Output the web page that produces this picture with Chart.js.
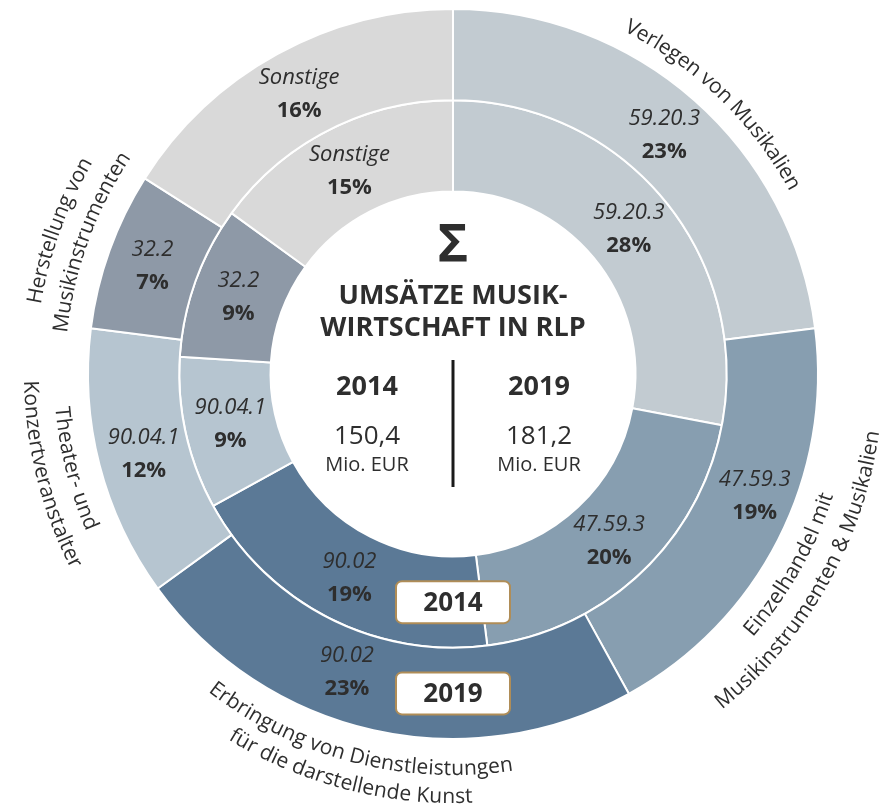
<!DOCTYPE html>
<html>
<head>
<meta charset="utf-8">
<script src="https://cdn.jsdelivr.net/npm/chart.js@4.4.1/dist/chart.umd.min.js"></script>
<style>
  html, body { margin: 0; padding: 0; background: #fff; }
  #wrap { width: 879px; height: 805px; }
</style>
</head>
<body>
<div id="wrap"><canvas id="musikChart" width="879" height="805"></canvas></div>
<script>
// Wirtschaftszweige (Außenbeschriftung, zeilenweise)
var categories = [
  ['Verlegen von Musikalien'],
  ['Einzelhandel mit', 'Musikinstrumenten & Musikalien'],
  ['Erbringung von Dienstleistungen', 'für die darstellende Kunst'],
  ['Theater- und', 'Konzertveranstalter'],
  ['Herstellung von', 'Musikinstrumenten'],
  []
];
var codes = ['59.20.3', '47.59.3', '90.02', '90.04.1', '32.2', 'Sonstige'];
var shares2014 = [28, 20, 19, 9, 9, 15];
var shares2019 = [23, 19, 23, 12, 7, 16];
var years = ['2014', '2019'];
var totals = ['150,4', '181,2'];
var unit = 'Mio. EUR';
var title = ['UMSÄTZE MUSIK-', 'WIRTSCHAFT IN RLP'];

var colors = ['#c2cbd1', '#879eb0', '#5b7996', '#b6c5d0', '#8e99a7', '#d9d9d9'];
var FONT = '"Open Sans", "Noto Sans", sans-serif';
var TEXT = '#2e2e2e';

// Text entlang eines Kreisbogens; deg = Winkel ab 12 Uhr im Uhrzeigersinn
function arcText(ctx, text, cx, cy, r, deg, inward) {
  var total = ctx.measureText(text).width;
  var a0 = deg * Math.PI / 180;
  var acc = 0;
  for (var i = 0; i < text.length; i++) {
    var ch = text[i];
    var w = ctx.measureText(ch).width;
    var off = (acc + w / 2 - total / 2) / r;
    var a = inward ? a0 - off : a0 + off;
    ctx.save();
    ctx.translate(cx + r * Math.sin(a), cy - r * Math.cos(a));
    ctx.rotate(inward ? a + Math.PI : a);
    ctx.fillText(ch, 0, 0);
    ctx.restore();
    acc += w;
  }
}

function roundRect(ctx, x, y, w, h, r) {
  ctx.beginPath();
  ctx.moveTo(x + r, y);
  ctx.arcTo(x + w, y, x + w, y + h, r);
  ctx.arcTo(x + w, y + h, x, y + h, r);
  ctx.arcTo(x, y + h, x, y, r);
  ctx.arcTo(x, y, x + w, y, r);
  ctx.closePath();
}

var labelPlugin = {
  id: 'ringLabels',
  afterDatasetsDraw: function(chart, args, opts) {
    var ctx = chart.ctx;
    var first = chart.getDatasetMeta(0).data[0];
    var cx = first.x, cy = first.y;
    ctx.save();
    ctx.textAlign = 'center';
    ctx.textBaseline = 'middle';
    ctx.fillStyle = TEXT;

    // Segmentbeschriftung: Kennziffer + Anteil
    chart.data.datasets.forEach(function(ds, di) {
      var meta = chart.getDatasetMeta(di);
      meta.data.forEach(function(arc, i) {
        var p = arc.getProps(['startAngle', 'endAngle', 'innerRadius', 'outerRadius'], true);
        var shift = (opts.shift[di] && opts.shift[di][i]) || [0, 0];
        var mid = (p.startAngle + p.endAngle) / 2 + shift[0] * Math.PI / 180;
        var r = (p.innerRadius + p.outerRadius) / 2 + shift[1];
        var x = cx + Math.cos(mid) * r;
        var y = cy + Math.sin(mid) * r;
        ctx.font = 'italic 22px ' + FONT;
        ctx.fillText(codes[i], x, y - 16);
        ctx.font = 'bold 22px ' + FONT;
        ctx.fillText(ds.data[i] + '%', x, y + 17);
      });
      // Jahres-Kästchen unten im Ring
      var m0 = meta.data[0];
      var rr = (m0.innerRadius + m0.outerRadius) / 2;
      var bx = cx - 57, by = cy + rr - 21;
      roundRect(ctx, bx, by, 114, 42, 6);
      ctx.fillStyle = '#ffffff';
      ctx.fill();
      ctx.lineWidth = 2;
      ctx.strokeStyle = '#b08d57';
      ctx.stroke();
      ctx.fillStyle = TEXT;
      ctx.font = 'bold 26px ' + FONT;
      ctx.fillText(ds.label, cx, cy + rr + 1);
    });

    // Außenbeschriftung entlang des Kreises
    ctx.font = '21px ' + FONT;
    opts.curved.forEach(function(c, i) {
      categories[i].forEach(function(line, li) {
        arcText(ctx, line, cx, cy, c.radii[li], c.angle, c.inward);
      });
    });

    // Mitte
    ctx.font = 'bold 52px ' + FONT;
    ctx.fillText('\u03A3', cx, cy - 128);
    ctx.font = 'bold 27px ' + FONT;
    ctx.fillText(title[0], cx, cy - 78);
    ctx.fillText(title[1], cx, cy - 46);
    [-86, 86].forEach(function(dx, k) {
      ctx.font = 'bold 27px ' + FONT;
      ctx.fillText(years[k], cx + dx, cy + 13);
      ctx.font = '26px ' + FONT;
      ctx.fillText(totals[k], cx + dx, cy + 63);
      ctx.font = '20px ' + FONT;
      ctx.fillText(unit, cx + dx, cy + 91);
    });
    ctx.beginPath();
    ctx.moveTo(cx, cy - 14);
    ctx.lineTo(cx, cy + 113);
    ctx.lineWidth = 3;
    ctx.strokeStyle = '#1a1a1a';
    ctx.stroke();
    ctx.restore();
  }
};

var ctx = document.getElementById('musikChart').getContext('2d');
new Chart(ctx, {
  type: 'doughnut',
  data: {
    labels: codes,
    datasets: [
      { label: years[1], data: shares2019, backgroundColor: colors, borderColor: '#ffffff', borderWidth: 2 },
      { label: years[0], data: shares2014, backgroundColor: colors, borderColor: '#ffffff', borderWidth: 2 }
    ]
  },
  options: {
    responsive: false,
    animation: false,
    radius: 365,
    cutout: '50%',
    layout: { padding: { left: 88, right: 61, top: 9, bottom: 66 } },
    plugins: {
      legend: { display: false },
      tooltip: { enabled: false },
      ringLabels: {
        shift: { 0: { 1: [-5, 6], 2: [7, -3] } },
        curved: [
          { angle: 44, radii: [389], inward: false },
          { angle: 119.5, radii: [393, 424], inward: true },
          { angle: 194.5, radii: [395, 423], inward: true },
          { angle: 256, radii: [393, 423], inward: true },
          { angle: 290, radii: [424, 394], inward: false },
          { angle: 0, radii: [], inward: false }
        ]
      }
    }
  },
  plugins: [labelPlugin]
});
</script>
</body>
</html>
